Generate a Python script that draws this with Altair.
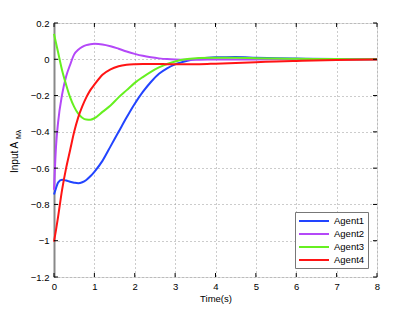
import altair as alt
import pandas as pd

agents = ["Agent1", "Agent2", "Agent3", "Agent4"]
colors = ["#2244ff", "#b448f8", "#66f020", "#ff1414"]

t = [0, 0.05, 0.1, 0.2, 0.3, 0.4, 0.5, 0.6, 0.7, 0.8, 0.9, 1.0, 1.2, 1.4, 1.6, 1.8,
     2.0, 2.2, 2.4, 2.6, 2.8, 3.0, 3.3, 3.6, 4.0, 4.5, 5.0, 5.5, 6.0, 7.0, 8.0]

agent1 = [-0.745, -0.71, -0.68, -0.664, -0.668, -0.675, -0.68, -0.683, -0.678, -0.665, -0.645,
          -0.62, -0.56, -0.48, -0.40, -0.32, -0.245, -0.18, -0.125, -0.08, -0.05, -0.028,
          -0.008, 0.004, 0.011, 0.012, 0.009, 0.006, 0.004, 0.001, 0.0]
agent2 = [-0.72, -0.48, -0.35, -0.195, -0.095, -0.03, 0.027, 0.052, 0.068, 0.078, 0.083,
          0.085, 0.082, 0.072, 0.058, 0.043, 0.03, 0.019, 0.011, 0.005, 0.001, -0.001,
          -0.002, -0.002, -0.001, -0.001, -0.001, 0.0, 0.0, 0.0, 0.0]
agent3 = [0.14, 0.09, 0.04, -0.06, -0.14, -0.21, -0.262, -0.30, -0.322, -0.332, -0.333,
          -0.325, -0.29, -0.255, -0.21, -0.17, -0.13, -0.098, -0.069, -0.045, -0.026, -0.012,
          0.001, 0.007, 0.009, 0.008, 0.006, 0.004, 0.003, 0.001, 0.0]
agent4 = [-1.005, -0.94, -0.87, -0.72, -0.60, -0.50, -0.40, -0.32, -0.26, -0.21, -0.17,
          -0.14, -0.085, -0.055, -0.038, -0.03, -0.027, -0.026, -0.026, -0.026, -0.027, -0.027,
          -0.028, -0.027, -0.024, -0.02, -0.016, -0.012, -0.009, -0.004, -0.001]

x_ticks = [0, 1, 2, 3, 4, 5, 6, 7, 8]
y_ticks = [0.2, 0, -0.2, -0.4, -0.6, -0.8, -1, -1.2]

rows = []
for name, vals in zip(agents, [agent1, agent2, agent3, agent4]):
    for ti, v in zip(t, vals):
        rows.append({"t": ti, "v": v, "agent": name})
df = pd.DataFrame(rows)

W, H = 323, 254
FONT = "Liberation Sans"

xs = alt.Scale(domain=[0, 8], nice=False, zero=False)
ys = alt.Scale(domain=[-1.2, 0.2], nice=False, zero=False)

x_axis = alt.Axis(
    values=x_ticks, title="Time(s)", format="~g", grid=True, gridDash=[1, 3],
    gridColor="#999999", domain=False, ticks=False, labelPadding=4, labelOverlap=False,
    labelFlush=False, titlePadding=3, labelFontSize=9.5, titleFontSize=9.5,
    titleFontWeight="normal")
y_axis = alt.Axis(
    values=y_ticks, title=None, format="~g", grid=True, gridDash=[1, 3],
    gridColor="#999999", domain=True, domainColor="#888888", domainWidth=2,
    ticks=False, labelPadding=5, labelFontSize=9.5, labelOverlap=False,
    labelFlush=False)

lines = alt.Chart(df).mark_line(strokeWidth=2, interpolate="monotone").encode(
    x=alt.X("t:Q", scale=xs, axis=x_axis),
    y=alt.Y("v:Q", scale=ys, axis=y_axis),
    color=alt.Color("agent:N", scale=alt.Scale(domain=agents, range=colors), legend=alt.Legend(
        title=None, orient="bottom-right", offset=9, symbolType="M-1,0H5",
        symbolSize=100, symbolStrokeWidth=2, labelOffset=24, labelFontSize=9.5,
        strokeColor="#777777", fillColor="white", padding=3, rowPadding=2)),
)

xt = pd.DataFrame({"t": x_ticks})
yt = pd.DataFrame({"v": y_ticks})
tick_bottom = alt.Chart(xt).mark_rule(color="black", strokeWidth=1).encode(
    x=alt.X("t:Q", scale=xs, axis=x_axis), y=alt.value(H), y2=alt.value(H - 4))
tick_top = alt.Chart(xt).mark_rule(color="black", strokeWidth=1).encode(
    x=alt.X("t:Q", scale=xs, axis=x_axis), y=alt.value(0), y2=alt.value(4))
tick_left = alt.Chart(yt).mark_rule(color="black", strokeWidth=1).encode(
    y=alt.Y("v:Q", scale=ys, axis=y_axis), x=alt.value(0), x2=alt.value(4))
tick_right = alt.Chart(yt).mark_rule(color="black", strokeWidth=1).encode(
    y=alt.Y("v:Q", scale=ys, axis=y_axis), x=alt.value(W), x2=alt.value(W - 4))

ytitle = alt.Chart(pd.DataFrame({"s": ["Input A"]})).mark_text(
    angle=270, align="left", baseline="middle", fontSize=10, font=FONT, color="black"
).encode(text="s:N", x=alt.value(-39), y=alt.value(150))
ysub = alt.Chart(pd.DataFrame({"s": ["Mλ"]})).mark_text(
    angle=270, align="left", baseline="middle", fontSize=7, font=FONT, color="black"
).encode(text="s:N", x=alt.value(-35), y=alt.value(116))

chart = alt.layer(lines, tick_bottom, tick_top, tick_left, tick_right, ytitle, ysub).properties(
    width=W, height=H, autosize="none",
    padding={"left": 46, "top": 15, "right": 30, "bottom": 27},
).configure_view(stroke="black", strokeWidth=1).configure(
    font=FONT
).configure_axis(labelColor="black", titleColor="black", labelFont=FONT, titleFont=FONT
).configure_legend(labelColor="black", labelFont=FONT)

chart.save("out.html", embed_options={"renderer": "svg", "actions": False})
